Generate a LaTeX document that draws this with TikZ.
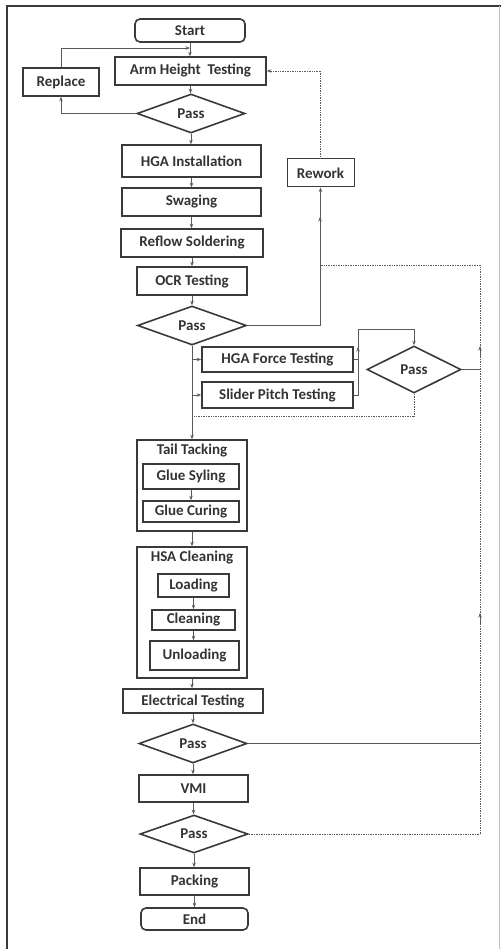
\documentclass[tikz,border=0pt]{standalone}
\usepackage{fontspec}
\setmainfont{Carlito}
\usetikzlibrary{shapes.geometric,arrows.meta}
\definecolor{boxc}{HTML}{3A3A3A}
\definecolor{linec}{HTML}{5A5A5A}
\definecolor{txtc}{HTML}{333333}
\tikzset{
  base/.style={draw=boxc, line width=1.6pt, inner sep=0pt, text=txtc, font=\bfseries\fontsize{15}{17}\selectfont},
  box/.style={base, rectangle},
  term/.style={base, rectangle, rounded corners=5pt},
  dec/.style={base, diamond, aspect=2.6},
  lbl/.style={inner sep=0pt, text=txtc, font=\bfseries\fontsize{15}{17}\selectfont},
  conn/.style={draw=linec, line width=0.7pt},
  arr/.style={conn, -{Stealth[length=4.5pt,width=3.5pt]}},
  dotc/.style={conn, densely dotted},
  darr/.style={conn, densely dotted, -{Stealth[length=4.5pt,width=3.5pt]}}
}
\begin{document}
\begin{tikzpicture}[x=1pt,y=-1pt]
\useasboundingbox (0,0) rectangle (501,949);
% frame
\draw[boxc, line width=1.6pt] (7,949) -- (7,6) -- (501,6);
\draw[linec!40, line width=0.8pt] (499,6) -- (499,949);

% nodes
\node[term, minimum width=110pt, minimum height=23pt] (start) at (190,30.5) {Start};
\node[box, minimum width=151pt, minimum height=28pt] (arm) at (190.5,71) {Arm Height\ \ Testing};
\node[box, minimum width=76pt, minimum height=28pt] (replace) at (61,82) {Replace};
\node[dec, minimum width=108pt, minimum height=39pt] (pass1) at (191,113.5) {Pass};
\node[box, minimum width=139pt, minimum height=32pt] (hga) at (191.5,161) {HGA Installation};
\node[box, line width=1pt, minimum width=67pt, minimum height=28pt] (rework) at (320.5,173) {Rework};
\node[box, minimum width=139pt, minimum height=28pt] (swag) at (191.5,202) {Swaging};
\node[box, minimum width=142pt, minimum height=28pt] (reflow) at (192,243) {Reflow Soldering};
\node[box, minimum width=110pt, minimum height=28pt] (ocr) at (192,281) {OCR Testing};
\node[dec, minimum width=109pt, minimum height=39pt] (pass2) at (192,325.5) {Pass};
\node[box, minimum width=151pt, minimum height=25pt] (hgaf) at (277.5,359.5) {HGA Force Testing};
\node[box, minimum width=151pt, minimum height=26pt] (slider) at (277.5,395) {Slider Pitch Testing};
\node[dec, minimum width=94pt, minimum height=47pt] (pass3) at (414,369.5) {Pass};

\node[box, minimum width=110pt, minimum height=91pt] (tail) at (192,485.5) {};
\node[lbl] (taill) at (192,451) {Tail Tacking};
\node[box, minimum width=96pt, minimum height=25pt] (glue1) at (191,476.5) {Glue Syling};
\node[box, minimum width=96pt, minimum height=21pt] (glue2) at (191,511.5) {Glue Curing};

\node[box, minimum width=110pt, minimum height=131pt] (hsa) at (192,612.5) {};
\node[lbl] (hsal) at (192,558) {HSA Cleaning};
\node[box, minimum width=71pt, minimum height=23pt] (load) at (193.5,585.5) {Loading};
\node[box, minimum width=83pt, minimum height=20pt] (clean) at (193.5,620) {Cleaning};
\node[box, minimum width=89pt, minimum height=29pt] (unload) at (194.5,655.5) {Unloading};

\node[box, minimum width=140pt, minimum height=24pt] (elec) at (193,701) {Electrical Testing};
\node[dec, minimum width=108pt, minimum height=39pt] (pass4) at (193,743.5) {Pass};
\node[box, minimum width=109pt, minimum height=27pt] (vmi) at (193.5,788.5) {VMI};
\node[dec, minimum width=108pt, minimum height=38pt] (pass5) at (194,834) {Pass};
\node[box, minimum width=109pt, minimum height=27pt] (pack) at (194.5,881.5) {Packing};
\node[term, minimum width=107pt, minimum height=22pt] (end) at (194.5,919) {End};

% helper coordinates
\coordinate (j1) at (190,48);
\coordinate (rv) at (480,265);
\coordinate (rj) at (320,265);
\coordinate (ra) at (320,217);
\coordinate (m1) at (358,329);
\coordinate (m2) at (358,347);
\coordinate (b1) at (192,359.5);
\coordinate (b2) at (192,395);
\coordinate (b3) at (192,416);
\coordinate (rb) at (480,834);
\coordinate (u1) at (480,346);
\coordinate (u1s) at (480,358);
\coordinate (u2) at (480,613);
\coordinate (u2s) at (480,625);

% top section
\draw[arr] (start.south) -- (start.south |- arm.north);
\draw[arr] (arm.south) -- (arm.south |- pass1.north);
\draw[arr] (pass1.west) -| (replace.south);
\draw[arr] (replace.north) |- (j1);
\draw[arr] (pass1.south) -- (pass1.south |- hga.north);
\draw[arr] (hga.south) -- (hga.south |- swag.north);
\draw[arr] (swag.south) -- (swag.south |- reflow.north);
\draw[arr] (reflow.south) -- (reflow.south |- ocr.north);
\draw[arr] (ocr.south) -- (ocr.south |- pass2.north);
\draw[darr] (rework.north) |- (arm.east);
\draw[arr] (pass2.east) -| (rework.south);
\draw[arr] (rj) -- (ra);

% parallel tests
\draw[arr] (pass2.south) -- (pass2.south |- tail.north);
\draw[arr] (b1) -- (hgaf.west);
\draw[arr] (b2) -- (slider.west);
\draw[conn] (hgaf.east) -- (hgaf.east -| m1);
\draw[conn] (slider.east) -| (m2);
\draw[arr] (hgaf.east -| m1) -- (m2);
\draw[arr] (m2) |- (m1) -| (pass3.north);
\draw[dotc] (pass3.south) |- (b3);

% right return line
\draw[dotc] (rb) -- (rv) -- (rj);
\draw[arr] (u1s) -- (u1);
\draw[arr] (u2s) -- (u2);
\draw[conn] (pass3.east) -- (pass3.east -| rv);
\draw[conn] (pass4.east) -- (pass4.east -| rv);
\draw[dotc] (pass5.east) -- (rb);

% tail tacking / cleaning
\draw[arr] (glue1.south) -- (glue1.south |- glue2.north);
\draw[arr] (tail.south) -- (tail.south |- hsa.north);
\draw[arr] (load.south) -- (load.south |- clean.north);
\draw[arr] (clean.south) -- (clean.south |- unload.north);
\draw[arr] (hsa.south) -- (hsa.south |- elec.north);
\draw[arr] (elec.south) -- (elec.south |- pass4.north);
\draw[arr] (pass4.south) -- (pass4.south |- vmi.north);
\draw[arr] (vmi.south) -- (vmi.south |- pass5.north);
\draw[arr] (pass5.south) -- (pass5.south |- pack.north);
\draw[arr] (pack.south) -- (pack.south |- end.north);
\end{tikzpicture}
\end{document}
